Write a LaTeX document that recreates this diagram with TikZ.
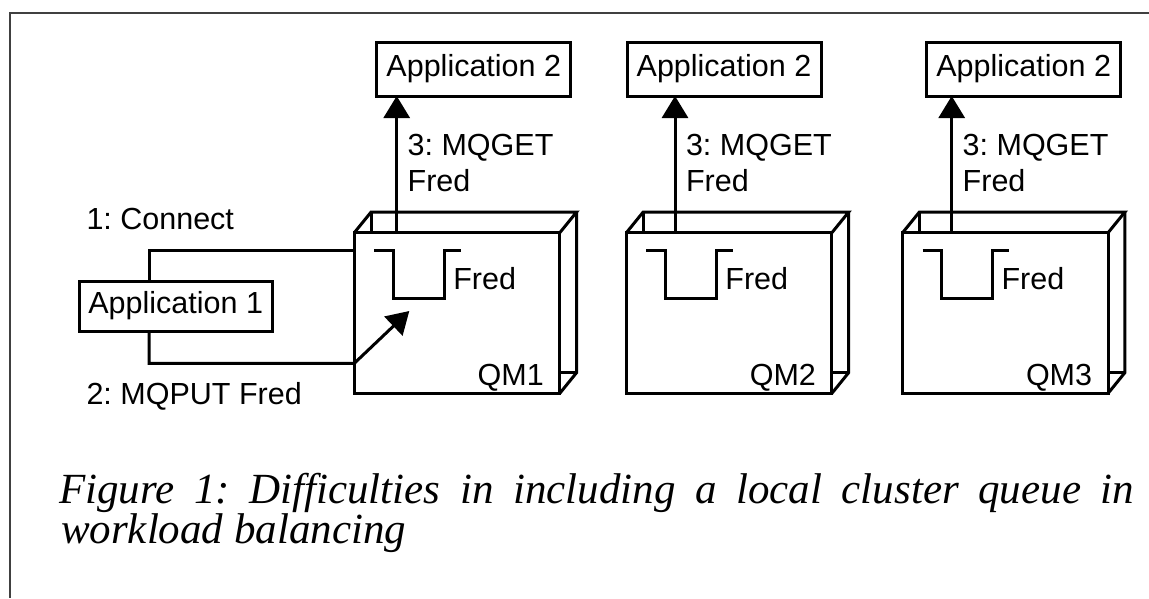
\documentclass[tikz,border=0pt]{standalone}
\usepackage{fontspec}
\setmainfont{Liberation Serif}
\newfontfamily\labelfont{Liberation Sans}
\usetikzlibrary{arrows.meta,calc}
\frenchspacing

\begin{document}
\begin{tikzpicture}[x=1pt,y=-1pt,
  every node/.style={inner sep=0pt, outer sep=0pt},
  txt/.style={font=\labelfont\fontsize{30.5}{36}\selectfont},
  lbl/.style={txt, anchor=base west},
  appbox/.style={txt, draw, line width=3pt, minimum width=194pt, minimum height=54pt},
  wire/.style={line width=3pt},
  flow/.style={wire, -{Triangle[length=22pt,width=26pt]}},
  face/.style={draw, line width=3pt, minimum width=205.5pt, minimum height=160.6pt, anchor=north west},
  captxt/.style={font=\itshape\fontsize{43}{40}\selectfont, anchor=base west},
]
\useasboundingbox (0,0) rectangle (1149,598);

% page frame
\draw[line width=1.2pt, black!75] (1149,13) -- (10,13) -- (10,598);

% queue managers drawn as open boxes with a local queue inside
\foreach \q/\L/\n in {qm1/354.3/QM1, qm2/626.4/QM2, qm3/902.6/QM3}{
  \node[face] (\q) at (\L,232.7) {};
  \draw[wire] (\q.north west) -- ++(16.8,-20.7)
     -- ($(\q.north east)+(16.8,-20.7)$) -- (\q.north east);
  \draw[wire] ($(\q.north east)+(16.8,-20.7)$)
     -- ($(\q.south east)+(16.8,-20.7)$) -- (\q.south east);
  \draw[wire] ($(\q.north west)+(16.8,-20.7)$) -- ++(0,20.7);
  \draw[wire] ($(\q.south east)+(0,-20.7)$) -- ++(16.8,0);
  % queue Fred
  \draw[wire] ($(\q.north west)+(20,18)$) -- ++(19,0) -- ++(0,47.5)
     -- ++(50.7,0) -- ++(0,-47.5) -- ++(16.8,0);
  \node[lbl] (\q-fred) at ($(\q.north west)+(99,56.5)$) {Fred};
  \node[txt, anchor=base east] (\q-name) at ($(\q.south east)+(-16,-8.3)$) {\n};
}

% receiving applications and their MQGET calls
\foreach \i/\cx/\gx in {1/473.8/396.7, 2/724/675, 3/1023.7/951.7}{
  \node[appbox] (app2-\i) at (\cx,69) {Application 2};
  \coordinate (get\i) at (\gx,232.7);
  \draw[flow] (get\i) -- (get\i |- app2-\i.south);
  \node[lbl] (get\i-a) at (\gx+11,155) {3: MQGET};
  \node[lbl] (get\i-b) at (\gx+11,191.7) {Fred};
}

% putting application
\node[appbox, minimum width=193.3pt, minimum height=50pt] (app1) at (175.7,306) {Application 1};
\coordinate (c1) at (149,250.7);
\coordinate (c2) at (149,363.3);
\coordinate (puttip) at (409.3,311);
\draw[wire] (c1 |- app1.north) -- (c1) -- (c1 -| qm1.west);
\draw[flow] (c2 |- app1.south) -- (c2) -- (c2 -| qm1.west) -- (puttip);
\node[lbl] (connect) at (86.5,229.3) {1: Connect};
\node[lbl] (put) at (86.5,404) {2: MQPUT Fred};

% caption
\node[captxt] (cap1) at (59,503)
  {\makebox[1075pt][s]{Figure 1: Difficulties in including a local cluster queue in}};
\node[captxt] (cap2) at (61,543) {workload balancing};
\end{tikzpicture}
\end{document}
